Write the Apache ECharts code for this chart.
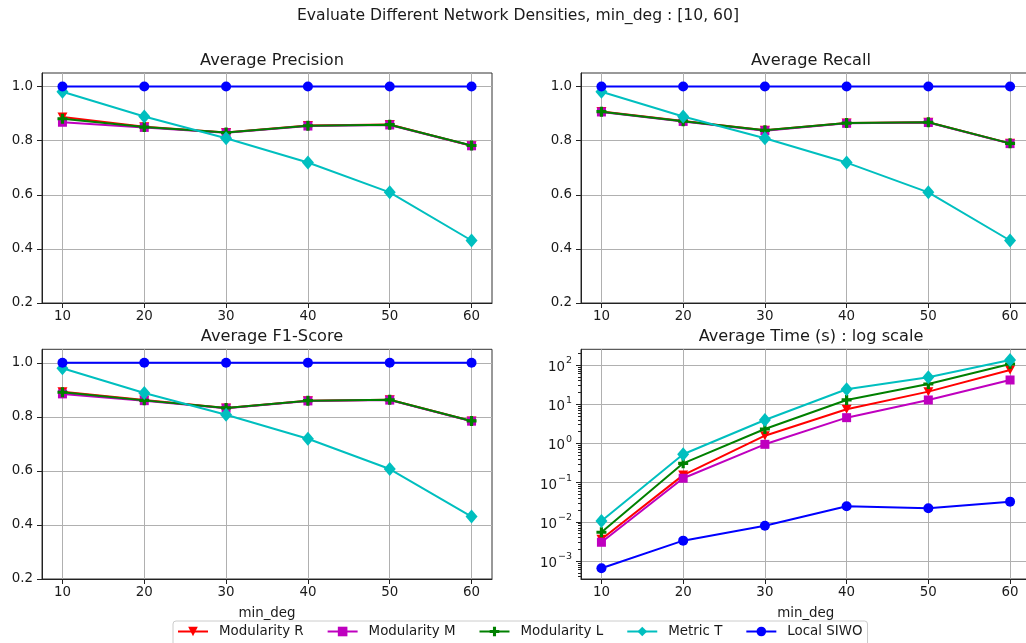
<!DOCTYPE html>
<html>
<head>
<meta charset="utf-8">
<script src="https://cdn.jsdelivr.net/npm/echarts@6/dist/echarts.min.js"></script>
<style>
  html, body { margin: 0; padding: 0; background: #ffffff; }
  #chart { width: 1026px; height: 643px; }
</style>
</head>
<body>
<div id="chart"></div>
<script>
// minimum degree settings on the x axis
const minDeg = [10, 20, 30, 40, 50, 60];

// Average precision
const precR = [0.887, 0.851, 0.830, 0.856, 0.860, 0.781];
const precM = [0.868, 0.849, 0.829, 0.854, 0.858, 0.781];
const precL = [0.881, 0.850, 0.830, 0.855, 0.859, 0.782];
const precT = [0.981, 0.889, 0.809, 0.719, 0.609, 0.431];
const precS = [1.0, 1.0, 1.0, 1.0, 1.0, 1.0];

// Average recall
const recR = [0.908, 0.873, 0.838, 0.865, 0.868, 0.790];
const recM = [0.906, 0.871, 0.837, 0.864, 0.867, 0.789];
const recL = [0.907, 0.872, 0.838, 0.865, 0.868, 0.790];
const recT = [0.981, 0.889, 0.809, 0.719, 0.609, 0.431];
const recS = [1.0, 1.0, 1.0, 1.0, 1.0, 1.0];

// Average F1-score
const f1R = [0.893, 0.862, 0.833, 0.860, 0.863, 0.785];
const f1M = [0.885, 0.860, 0.832, 0.859, 0.862, 0.784];
const f1L = [0.891, 0.861, 0.833, 0.860, 0.863, 0.785];
const f1T = [0.980, 0.888, 0.808, 0.719, 0.607, 0.431];
const f1S = [1.0, 1.0, 1.0, 1.0, 1.0, 1.0];

// Average running time in seconds
const timeR = [0.0036, 0.155, 1.57, 7.4, 20.9, 74.5];
const timeM = [0.0030, 0.129, 0.946, 4.53, 12.8, 41.4];
const timeL = [0.0054, 0.31, 2.33, 12.8, 32.7, 106];
const timeT = [0.0105, 0.527, 3.95, 24, 48.5, 134];
const timeS = [0.00065, 0.0033, 0.0079, 0.0248, 0.0221, 0.0326];

// tick labels
const xTicks = [10, 20, 30, 40, 50, 60];
const yTicks = [0.2, 0.4, 0.6, 0.8, 1.0];
const logTicks = [0.001, 0.01, 0.1, 1, 10, 100];

const methodNames = ['Modularity R', 'Modularity M', 'Modularity L', 'Metric T', 'Local SIWO'];
const panelTitles = ['Average Precision', 'Average Recall', 'Average F1-Score', 'Average Time (s) : log scale'];
const suptitle = 'Evaluate Different Network Densities, min_deg : [10, 60]';
const xName = 'min_deg';

const FONT = 'DejaVu Sans';
const TXT = '#1a1a1a';

const colors = ['#ff0000', '#bf00bf', '#008000', '#00bfbf', '#0000ff'];
const plusPath = 'path://M3.4,0H6.6V3.4H10V6.6H6.6V10H3.4V6.6H0V3.4H3.4Z';
const markers = [
  { symbol: 'triangle', symbolSize: [10, 9], symbolRotate: 180 },
  { symbol: 'rect', symbolSize: 9 },
  { symbol: plusPath, symbolSize: 10 },
  { symbol: 'diamond', symbolSize: [12, 14] },
  { symbol: 'circle', symbolSize: 10 }
];

const panelData = [
  [precR, precM, precL, precT, precS],
  [recR, recM, recL, recT, recS],
  [f1R, f1M, f1L, f1T, f1S],
  [timeR, timeM, timeL, timeT, timeS]
];

// axes rectangles (the right column runs slightly past the canvas edge)
const grids = [
  { left: 42, top: 73, width: 450, height: 230 },
  { left: 581, top: 73, width: 449.5, height: 230 },
  { left: 42, top: 349.3, width: 450, height: 229.7 },
  { left: 581, top: 349.3, width: 449.5, height: 229.7 }
];

const LOG_MIN = Math.pow(10, -3.46);
const LOG_MAX = Math.pow(10, 2.4);

const xAxes = grids.map((g, i) => ({
  gridIndex: i,
  type: 'value',
  min: 7.5,
  max: 62.5,
  splitNumber: 5,
  name: i >= 2 ? xName : '',
  nameLocation: 'middle',
  nameGap: 28,
  nameTextStyle: { fontFamily: FONT, fontSize: 13.4, color: TXT },
  axisLine: { show: true, onZero: false, lineStyle: { color: '#222', width: 1 } },
  axisTick: { show: true, customValues: xTicks, length: 5, inside: false, lineStyle: { color: '#222' } },
  axisLabel: { customValues: xTicks, margin: 7, fontFamily: FONT, fontSize: 13.4, color: TXT },
  splitLine: { show: true, lineStyle: { color: '#b0b0b0', width: 1 } }
}));

const yAxes = grids.map((g, i) => {
  if (i < 3) {
    return {
      gridIndex: i,
      type: 'value',
      min: 0.2,
      max: 1.05,
      interval: 0.2,
      axisLine: { show: true, lineStyle: { color: '#222', width: 1 } },
      axisTick: { show: true, customValues: yTicks, length: 5, lineStyle: { color: '#222' } },
      axisLabel: {
        customValues: yTicks, margin: 9, fontFamily: FONT, fontSize: 13.4, color: TXT,
        formatter: v => v.toFixed(1)
      },
      splitLine: { show: true, lineStyle: { color: '#b0b0b0', width: 1 } }
    };
  }
  return {
    gridIndex: i,
    type: 'log',
    logBase: 10,
    min: LOG_MIN,
    max: LOG_MAX,
    axisLine: { show: true, lineStyle: { color: '#222', width: 1 } },
    axisTick: { show: true, customValues: logTicks, length: 5, lineStyle: { color: '#222' } },
    axisLabel: {
      customValues: logTicks, margin: 9, fontFamily: FONT, color: TXT,
      formatter: v => {
        const e = Math.round(Math.log10(v));
        const s = String(e).replace('-', '−');
        return '{b|10}{s|' + s + '}';
      },
      rich: {
        b: { fontFamily: FONT, fontSize: 13.4, color: TXT, verticalAlign: 'bottom', lineHeight: 18 },
        s: { fontFamily: FONT, fontSize: 9.5, color: TXT, verticalAlign: 'top', lineHeight: 10, padding: [0, 0, 0, 1] }
      }
    },
    splitLine: { show: true, lineStyle: { color: '#b0b0b0', width: 1 } }
  };
});

// minor ticks (2..9 per decade) on the log axis
const minorVals = [];
for (let p = -4; p <= 2; p++) {
  for (let m = 2; m <= 9; m++) {
    const v = m * Math.pow(10, p);
    if (v > LOG_MIN && v < LOG_MAX) minorVals.push(v);
  }
}
yAxes.push({
  gridIndex: 3,
  type: 'log',
  logBase: 10,
  min: LOG_MIN,
  max: LOG_MAX,
  position: 'left',
  offset: 0,
  axisLine: { show: false },
  axisTick: { show: true, customValues: minorVals, length: 3, lineStyle: { color: '#222', width: 1 } },
  axisLabel: { show: false },
  splitLine: { show: false }
});

const series = [];
panelData.forEach((sets, p) => {
  sets.forEach((vals, k) => {
    series.push({
      name: methodNames[k],
      type: 'line',
      xAxisIndex: p,
      yAxisIndex: p,
      data: minDeg.map((x, j) => [x, vals[j]]),
      symbol: markers[k].symbol,
      symbolSize: markers[k].symbolSize,
      symbolRotate: markers[k].symbolRotate || 0,
      showAllSymbol: true,
      z: 3 + k,
      lineStyle: { color: colors[k], width: 2 },
      itemStyle: { color: colors[k], borderWidth: 0 },
      emphasis: { disabled: true },
      silent: true
    });
  });
});

const titles = [{
  text: suptitle,
  left: 513,
  top: 3,
  textAlign: 'center',
  textStyle: { fontFamily: FONT, fontSize: 15.6, fontWeight: 'normal', color: TXT }
}];
const titleTops = [48, 48, 324, 324];
grids.forEach((g, i) => {
  titles.push({
    text: panelTitles[i],
    left: i % 2 === 0 ? 267 : 806,
    top: titleTops[i],
    textAlign: 'center',
    textStyle: { fontFamily: FONT, fontSize: 16.2, fontWeight: 'normal', color: TXT }
  });
});

const chart = echarts.init(document.getElementById('chart'), null, { renderer: 'canvas' });
chart.setOption({
  animation: false,
  backgroundColor: '#ffffff',
  title: titles,
  grid: grids.map(g => Object.assign({
    show: true, borderColor: '#333', borderWidth: 1, backgroundColor: 'transparent',
    containLabel: false, outerBoundsMode: 'none'
  }, g)),
  xAxis: xAxes,
  yAxis: yAxes,
  legend: {
    data: methodNames,
    left: 173,
    top: 621,
    orient: 'horizontal',
    itemWidth: 30,
    itemHeight: 12,
    itemGap: 23,
    padding: [4, 5, 20, 4],
    borderColor: '#cccccc',
    borderWidth: 1,
    borderRadius: 3,
    backgroundColor: '#ffffff',
    textStyle: { fontFamily: FONT, fontSize: 13.4, color: TXT, padding: [0, 0, 0, 6] },
    selectedMode: false
  },
  series: series
});
</script>
</body>
</html>
